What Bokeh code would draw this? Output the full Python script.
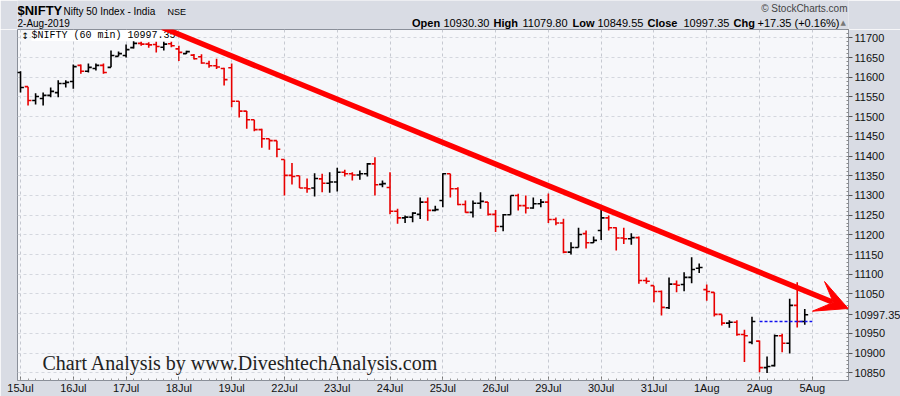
from bokeh.plotting import figure
from bokeh.layouts import column
from bokeh.models import Range1d, FixedTicker, Label, Arrow, VeeHead, ColumnDataSource
from bokeh.embed import file_html
from bokeh.resources import INLINE

# ---------------- data (60-min bars, 7 per session) ----------------
day_labels = ["15Jul", "16Jul", "17Jul", "18Jul", "19Jul", "22Jul", "23Jul", "24Jul",
              "25Jul", "26Jul", "29Jul", "30Jul", "31Jul", "1Aug", "2Aug", "5Aug"]
bars_per_day = 7

opens = [
    11612, 11576, 11541, 11546, 11554, 11561, 11584,
    11589, 11630, 11615, 11622, 11630, 11625, 11653,
    11655, 11675, 11686, 11684, 11683, 11676, 11685,
    11672, 11660, 11656, 11652, 11635, 11629, 11622,
    11624, 11539, 11514, 11492, 11467, 11444, 11439,
    11391, 11351, 11350, 11319, 11319, 11342, 11331,
    11334, 11359, 11355, 11352, 11355, 11380, 11328,
    11320, 11260, 11243, 11245, 11252, 11283, 11262,
    11287, 11355, 11317, 11277, 11257, 11280, 11283,
    11252, 11221, 11251, 11300, 11274, 11268, 11279,
    11283, 11239, 11230, 11156, 11168, 11203, 11180,
    11211, 11243, 11218, 11192, 11190, 11193, 11084,
    11071, 11056, 11015, 11075, 11074, 11092, 11115,
    11061, 11054, 10998, 10976, 10978, 10947, 10927,
    10930.30, 10863, 10868, 10944, 10925, 11021, 10980,
]
highs = [
    11615, 11576, 11559, 11561, 11574, 11592, 11592,
    11632, 11632, 11635, 11635, 11635, 11668, 11665,
    11683, 11691, 11690, 11689, 11690, 11690, 11690,
    11680, 11667, 11659, 11658, 11642, 11647, 11624,
    11635, 11539, 11514, 11492, 11469, 11444, 11439,
    11391, 11382, 11350, 11343, 11356, 11355, 11359,
    11370, 11365, 11359, 11363, 11382, 11397, 11338,
    11359, 11266, 11249, 11257, 11295, 11295, 11274,
    11356, 11355, 11321, 11287, 11287, 11308, 11283,
    11263, 11253, 11300, 11304, 11300, 11295, 11291,
    11305, 11244, 11241, 11181, 11218, 11211, 11196,
    11263, 11249, 11219, 11218, 11204, 11196, 11092,
    11071, 11059, 11092, 11084, 11105, 11143, 11127,
    11074, 11054, 10998, 10983, 10983, 10959, 10992,
    10932, 10891, 10947, 10949, 11038, 11079.80, 11012,
]
lows = [
    11561, 11528, 11531, 11528, 11549, 11549, 11574,
    11571, 11609, 11612, 11617, 11609, 11625, 11653,
    11650, 11673, 11680, 11675, 11663, 11668, 11676,
    11641, 11659, 11645, 11634, 11624, 11621, 11579,
    11524, 11498, 11469, 11463, 11421, 11416, 11397,
    11300, 11328, 11319, 11307, 11297, 11308, 11307,
    11310, 11348, 11338, 11340, 11348, 11300, 11321,
    11252, 11228, 11230, 11232, 11240, 11236, 11260,
    11270, 11295, 11275, 11256, 11244, 11266, 11249,
    11207, 11209, 11251, 11262, 11254, 11266, 11270,
    11230, 11224, 11153, 11150, 11168, 11165, 11179,
    11187, 11211, 11160, 11177, 11175, 11076, 11076,
    11029, 10995, 11012, 11054, 11057, 11077, 11103,
    11033, 10993, 10970, 10964, 10944, 10877, 10922,
    10851, 10849.55, 10866, 10902, 10899, 10965, 10972,
]
closes = [
    11574, 11541, 11551, 11554, 11564, 11584, 11587,
    11627, 11615, 11625, 11630, 11612, 11655, 11660,
    11670, 11686, 11684, 11682, 11678, 11684, 11680,
    11663, 11665, 11647, 11636, 11629, 11626, 11594,
    11539, 11514, 11492, 11467, 11444, 11439, 11417,
    11351, 11348, 11319, 11317, 11343, 11331, 11334,
    11359, 11355, 11352, 11355, 11380, 11327, 11330,
    11260, 11243, 11245, 11255, 11283, 11262, 11264,
    11355, 11317, 11277, 11257, 11280, 11285, 11252,
    11221, 11251, 11300, 11274, 11268, 11279, 11283,
    11239, 11230, 11156, 11168, 11201, 11180, 11186,
    11243, 11218, 11192, 11190, 11193, 11084, 11082,
    11056, 11016, 11075, 11072, 11092, 11112, 11117,
    11056, 10998, 10976, 10978, 10947, 10944, 10980,
    10863, 10866, 10944, 10925, 11021, 10980, 10997.35,
]
prev_close = 10980.00
y_ticks = list(range(10850, 11701, 50))
# hand-drawn trend arrow (bar index, price)
trend_x = [18.8, 109.75]
trend_y = [11726, 11013]

# ---------------- derived ----------------
n = len(closes)
idx = list(range(n))
up_col, dn_col = "#000000", "#e80000"
colors = [up_col] + [up_col if closes[i] >= closes[i - 1] else dn_col for i in range(1, n)]
tick = 0.45
src = ColumnDataSource(dict(
    x=idx, xl=[i - tick for i in idx], xr=[i + tick for i in idx],
    o=opens, h=highs, l=lows, c=closes, col=colors))

day_ticks = [d * bars_per_day for d in range(len(day_labels))]
last = closes[-1]

BORDER = "#d9dce4"
FL, FR, FW, FH, HH = 17, 52, 831, 351, 29

# ---------------- header strip (same side borders so frames line up) ----------------
hdr_fig = figure(frame_width=FW, frame_height=HH, min_border_left=FL, min_border_right=FR,
                 min_border_top=0, min_border_bottom=0, title=None,
                 x_range=Range1d(FL, FL + FW), y_range=Range1d(HH, 0),
                 x_axis_type=None, y_axis_type=None, toolbar_location=None,
                 output_backend="svg")
hdr_fig.background_fill_color = BORDER
hdr_fig.border_fill_color = BORDER
hdr_fig.outline_line_color = None
hdr_fig.xgrid.visible = False
hdr_fig.ygrid.visible = False


def hlab(text, px, py, size="11px", bold=False, color="#000000", font="Liberation Sans",
         align="left"):
    hdr_fig.add_layout(Label(x=px, y=py, text=text, text_font=font, text_font_size=size,
                             text_font_style="bold" if bold else "normal",
                             text_color=color, text_align=align, text_baseline="middle"))


hlab("$NIFTY", 17, 10, size="13px", bold=True)
hlab("Nifty 50 Index - India", 63, 11, size="10px")
hlab("NSE", 167, 11.5, size="9px")
hlab("2-Aug-2019", 17, 22.5, size="10px")
hlab("\u00a9 StockCharts.com", 847, 8, size="10px", color="#444444", align="right")
hdr_items = [("Open", 411.5, True), ("10930.30", 443, False), ("High", 493, True),
             ("11079.80", 522, False), ("Low", 572, True), ("10849.55", 597, False),
             ("Close", 647, True), ("10997.35", 683, False), ("Chg", 733, True),
             ("+17.35 (+0.16%)", 757, False)]
for t, px, b in hdr_items:
    hlab(t, px, 22.5, size="11px", bold=b)
hlab("\u25b2", 840, 22, size="7px", color="#777777", font="DejaVu Sans")

# ---------------- main chart ----------------
X0, X1 = -0.4, 109.8
Y0, Y1 = 10830.3, 11721.1

p = figure(frame_width=FW, frame_height=FH, min_border_left=FL, min_border_right=FR,
           min_border_top=0, min_border_bottom=16, title=None,
           x_range=Range1d(X0, X1), y_range=Range1d(Y0, Y1),
           y_axis_location="right", toolbar_location=None, output_backend="svg")
p.border_fill_color = BORDER
p.background_fill_color = "#f6f7fa"
p.outline_line_color = "#8a8f99"

# x axis
p.xaxis.ticker = FixedTicker(ticks=day_ticks, minor_ticks=idx + [n])
p.xaxis.major_label_overrides = {t: lab for t, lab in zip(day_ticks, day_labels)}
p.xaxis.major_tick_in = 4
p.xaxis.major_tick_out = 0
p.xaxis.minor_tick_in = 2
p.xaxis.minor_tick_out = 0
p.xaxis.major_label_standoff = 1
p.xaxis.axis_line_color = "#8a8f99"
p.xaxis.major_tick_line_color = "#777777"
p.xaxis.minor_tick_line_color = "#999999"
p.xaxis.major_label_text_font = "Liberation Sans"
p.xaxis.major_label_text_font_size = "11px"
p.xaxis.major_label_text_color = "#111111"

# y axis: regular ticks, with the last-price tag replacing the hidden 11000 label
axis_ticks = [t for t in y_ticks if abs(t - last) > 25] + [last]
p.yaxis.ticker = FixedTicker(ticks=axis_ticks, minor_ticks=list(range(10840, 11721, 10)))
overrides = {t: str(t) for t in y_ticks}
overrides[last] = f"{last:.2f}"
p.yaxis.major_label_overrides = overrides
p.yaxis.major_tick_in = 0
p.yaxis.major_tick_out = 4
p.yaxis.minor_tick_in = 2
p.yaxis.minor_tick_out = 0
p.yaxis.major_label_standoff = 2
p.yaxis.axis_line_color = "#8a8f99"
p.yaxis.major_tick_line_color = "#555555"
p.yaxis.minor_tick_line_color = "#888888"
p.yaxis.major_label_text_font = "Liberation Sans"
p.yaxis.major_label_text_font_size = "11px"
p.yaxis.major_label_text_color = "#111111"

p.xgrid.grid_line_color = "#c6c9d1"
p.xgrid.grid_line_dash = "3 3"
p.ygrid.ticker = FixedTicker(ticks=y_ticks)
p.ygrid.grid_line_color = "#d4d7de"
p.ygrid.grid_line_dash = "3 3"

# OHLC bars
p.segment(x0="x", y0="l", x1="x", y1="h", source=src, line_color="col", line_width=1.6)
p.segment(x0="xl", y0="o", x1="x", y1="o", source=src, line_color="col", line_width=1.6)
p.segment(x0="x", y0="c", x1="xr", y1="c", source=src, line_color="col", line_width=1.6)

# previous close dotted line over last session
p.line(x=[day_ticks[-2], day_ticks[-1]], y=[prev_close, prev_close],
       line_color="#1010ee", line_width=1.3, line_dash="3 2")


def plab(text, px, py, size="11px", color="#000000", font="Liberation Sans", **kw):
    # screen units are relative to the frame's bottom-left corner
    p.add_layout(Label(x=px - FL, y=(HH + FH) - py, x_units="screen", y_units="screen",
                       text=text, text_font=font, text_font_size=size, text_color=color,
                       text_align="left", text_baseline="middle", **kw))


plab("$NIFTY (60 min) 10997.35", 31, 35, size="10px", font="Liberation Mono",
     background_fill_color="#ffffff")
plab("\u2195", 21, 35, size="9px", font="DejaVu Sans")
plab("Chart Analysis by www.DiveshtechAnalysis.com", 42, 362, size="20px",
     font="Liberation Serif", color="#222222")

# trend arrow (drawn over the legend box, as in the original)
p.add_layout(Arrow(end=VeeHead(size=32, fill_color="#ff0000", line_color="#ff0000"),
                   x_start=trend_x[0], y_start=trend_y[0], x_end=trend_x[1], y_end=trend_y[1],
                   line_color="#ff0000", line_width=5.5))

layout = column(hdr_fig, p, spacing=0)
open("out.html", "w").write(file_html(layout, INLINE))
